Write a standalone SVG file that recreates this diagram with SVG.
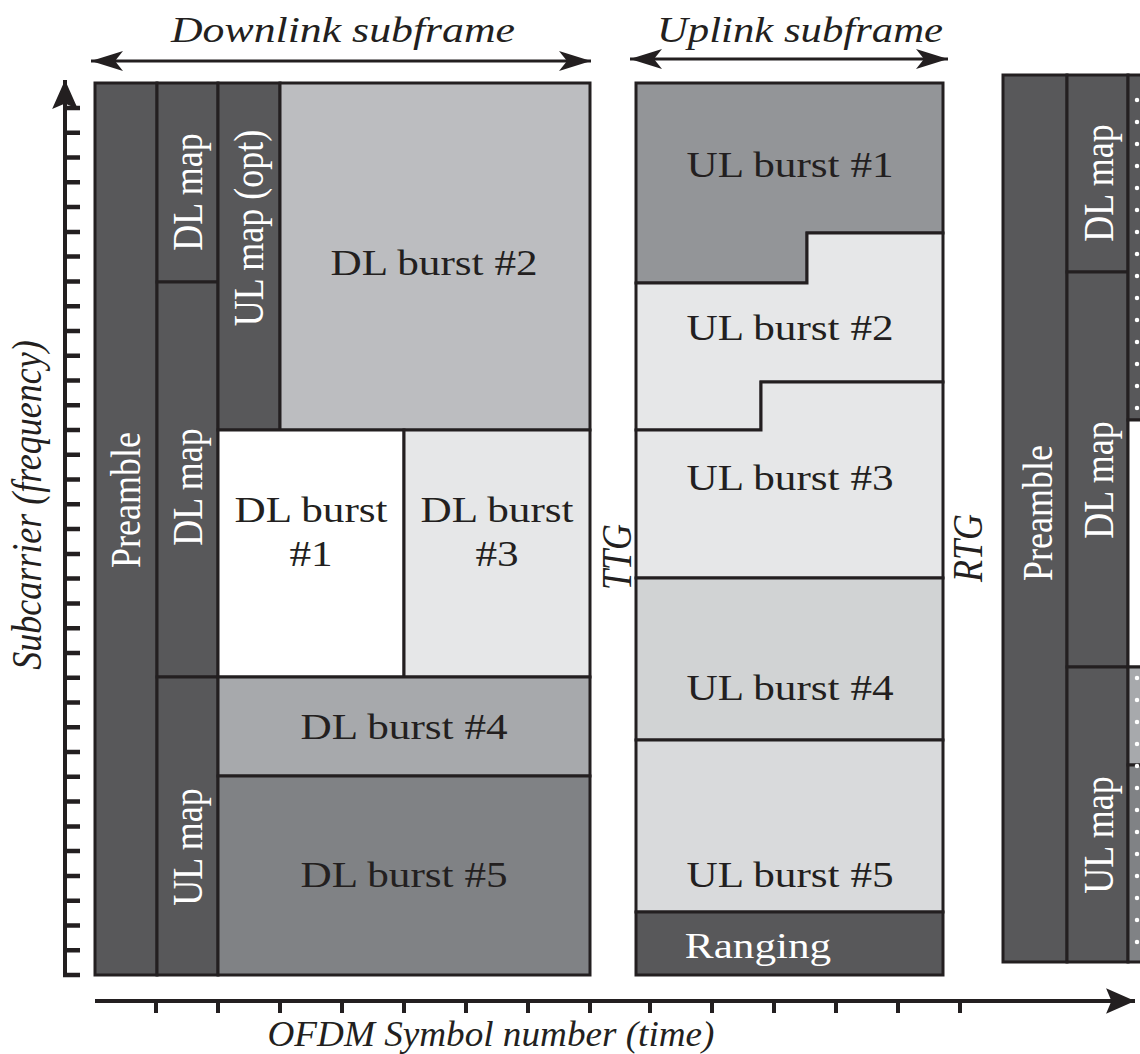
<svg xmlns="http://www.w3.org/2000/svg" width="1140" height="1054" viewBox="0 0 1140 1054">
<style>
.b{stroke:#231f20;stroke-width:3;stroke-linejoin:miter}
.dk{fill:#58585a}
.t{font-family:"Liberation Serif","Times New Roman",serif;font-size:36px;fill:#231f20;text-anchor:middle}
.w{fill:#ffffff}
.it{font-style:italic}
.ax{stroke:#231f20;fill:none}
</style>
<defs>
<marker id="ah" markerUnits="userSpaceOnUse" markerWidth="40" markerHeight="24" refX="0" refY="0" viewBox="-34 -12 36 24" orient="auto-start-reverse" overflow="visible">
<path d="M0,0 L-32,-10 L-24,0 L-32,10 Z" fill="#231f20"/>
</marker>
<marker id="av" markerUnits="userSpaceOnUse" markerWidth="40" markerHeight="30" refX="0" refY="0" viewBox="-32 -14 34 28" orient="auto" overflow="visible">
<path d="M0,0 L-27,-12 L-22,0 L-27,12 Z" fill="#231f20"/>
</marker>
</defs>
<rect width="1140" height="1054" fill="#ffffff"/>

<g id="connectors">
<line class="ax" x1="91" y1="61" x2="591" y2="61" stroke-width="3.2" marker-start="url(#ah)" marker-end="url(#ah)"/>
<line class="ax" x1="630" y1="59" x2="948" y2="59" stroke-width="3.2" marker-start="url(#ah)" marker-end="url(#ah)"/>
<line class="ax" x1="65" y1="977" x2="65" y2="80" stroke-width="4" marker-end="url(#av)"/>
<path class="ax" stroke-width="4.5" d="M65,108H80M65,132.8H80M65,157.5H80M65,182.3H80M65,207.1H80M65,231.9H80M65,256.6H80M65,281.4H80M65,306.2H80M65,330.9H80M65,355.7H80M65,380.5H80M65,405.3H80M65,430H80M65,454.8H80M65,479.6H80M65,504.3H80M65,529.1H80M65,553.9H80M65,578.6H80M65,603.4H80M65,628.2H80M65,653H80M65,677.7H80M65,702.5H80M65,727.3H80M65,752H80M65,776.8H80M65,801.6H80M65,826.4H80M65,851.1H80M65,875.9H80M65,900.7H80M65,925.4H80M65,950.2H80M63,975H80"/>
<line class="ax" x1="95" y1="1001" x2="1135" y2="1001" stroke-width="4" marker-end="url(#av)"/>
<path class="ax" stroke-width="4" d="M156,1001V1013M218,1001V1013M280,1001V1013M342,1001V1013M404,1001V1013M466,1001V1013M528,1001V1013M590,1001V1013M650,1001V1013M712,1001V1013M774,1001V1013M836,1001V1013M898,1001V1013M960,1001V1013"/>
</g>

<g id="labels">
<text class="t it" x="343" y="42" font-size="33" textLength="344" lengthAdjust="spacingAndGlyphs">Downlink subframe</text>
<text class="t it" x="800" y="42" font-size="33" textLength="286" lengthAdjust="spacingAndGlyphs">Uplink subframe</text>
<text class="t it" x="491" y="1046" font-size="34" textLength="447" lengthAdjust="spacingAndGlyphs">OFDM Symbol number (time)</text>
<text class="t it" font-size="34" transform="translate(41,505) scale(1.2 1) rotate(-90)">Subcarrier (frequency)</text>
<text class="t it" font-size="34" transform="translate(631,557) scale(1.2 1) rotate(-90)">TTG</text>
<text class="t it" font-size="34" transform="translate(982,548) scale(1.2 1) rotate(-90)">RTG</text>
</g>

<g id="dl-preamble">
<rect class="b dk" x="95" y="83" width="62" height="892"/>
<text class="t w" font-size="34" transform="translate(140,500) scale(1.2 1) rotate(-90)">Preamble</text>
</g>
<g id="dl-dlmap-1">
<rect class="b dk" x="157" y="83" width="61" height="199"/>
<text class="t w" font-size="34" transform="translate(202,192) scale(1.2 1) rotate(-90)">DL map</text>
</g>
<g id="dl-dlmap-2">
<rect class="b dk" x="157" y="282" width="61" height="395"/>
<text class="t w" font-size="34" transform="translate(202,487) scale(1.2 1) rotate(-90)">DL map</text>
</g>
<g id="dl-ulmap">
<rect class="b dk" x="157" y="677" width="61" height="298"/>
<text class="t w" font-size="34" transform="translate(202,847) scale(1.2 1) rotate(-90)">UL map</text>
</g>
<g id="dl-ulmap-opt">
<rect class="b dk" x="218" y="83" width="62" height="347"/>
<text class="t w" font-size="34" transform="translate(263,228) scale(1.2 1) rotate(-90)">UL map (opt)</text>
</g>
<g id="dl-burst-2">
<rect class="b" fill="#bcbdc0" x="280" y="83" width="310" height="347"/>
<text class="t" transform="translate(434,275) scale(1.2 1)">DL burst #2</text>
</g>
<g id="dl-burst-1">
<rect class="b" fill="#ffffff" x="218" y="430" width="186" height="247"/>
<text class="t" transform="translate(311,522) scale(1.2 1)">DL burst</text>
<text class="t" transform="translate(311,566) scale(1.2 1)">#1</text>
</g>
<g id="dl-burst-3">
<rect class="b" fill="#e6e7e8" x="404" y="430" width="186" height="247"/>
<text class="t" transform="translate(497,522) scale(1.2 1)">DL burst</text>
<text class="t" transform="translate(497,566) scale(1.2 1)">#3</text>
</g>
<g id="dl-burst-4">
<rect class="b" fill="#a7a9ac" x="218" y="677" width="372" height="99"/>
<text class="t" transform="translate(404,739) scale(1.2 1)">DL burst #4</text>
</g>
<g id="dl-burst-5">
<rect class="b" fill="#808285" x="218" y="776" width="372" height="199"/>
<text class="t" transform="translate(404,887) scale(1.2 1)">DL burst #5</text>
</g>

<g id="ul-burst-1">
<polygon class="b" fill="#939598" points="636,83 943,83 943,233 807,233 807,283 636,283"/>
<text class="t" transform="translate(790,177) scale(1.2 1)">UL burst #1</text>
</g>
<g id="ul-burst-2">
<polygon class="b" fill="#e6e7e8" points="636,283 807,283 807,233 943,233 943,382 761,382 761,430 636,430"/>
<text class="t" transform="translate(790,340) scale(1.2 1)">UL burst #2</text>
</g>
<g id="ul-burst-3">
<polygon class="b" fill="#e6e7e8" points="636,430 761,430 761,382 943,382 943,578 636,578"/>
<text class="t" transform="translate(790,490) scale(1.2 1)">UL burst #3</text>
</g>
<g id="ul-burst-4">
<rect class="b" fill="#d1d3d4" x="636" y="578" width="307" height="162"/>
<text class="t" transform="translate(790,700) scale(1.2 1)">UL burst #4</text>
</g>
<g id="ul-burst-5">
<rect class="b" fill="#d9dadc" x="636" y="740" width="307" height="172"/>
<text class="t" transform="translate(790,887) scale(1.2 1)">UL burst #5</text>
</g>
<g id="ul-ranging">
<rect class="b dk" x="636" y="912" width="307" height="63"/>
<text class="t w" transform="translate(758,958) scale(1.2 1)">Ranging</text>
</g>

<g id="next-preamble">
<rect class="b dk" x="1003" y="75" width="64" height="887"/>
<text class="t w" font-size="34" transform="translate(1052,513) scale(1.2 1) rotate(-90)">Preamble</text>
</g>
<g id="next-dlmap-1">
<rect class="b dk" x="1067" y="75" width="61" height="197"/>
<text class="t w" font-size="34" transform="translate(1113,183) scale(1.2 1) rotate(-90)">DL map</text>
</g>
<g id="next-dlmap-2">
<rect class="b dk" x="1067" y="272" width="61" height="395"/>
<text class="t w" font-size="34" transform="translate(1113,480) scale(1.2 1) rotate(-90)">DL map</text>
</g>
<g id="next-ulmap">
<rect class="b dk" x="1067" y="667" width="61" height="295"/>
<text class="t w" font-size="34" transform="translate(1113,835) scale(1.2 1) rotate(-90)">UL map</text>
</g>
<g id="next-bursts">
<rect class="b dk" x="1128" y="75" width="20" height="345"/>
<rect class="b" fill="#ffffff" x="1128" y="420" width="20" height="247"/>
<rect class="b" fill="#a7a9ac" x="1128" y="667" width="20" height="98"/>
<rect class="b" fill="#808285" x="1128" y="765" width="20" height="197"/>
<line x1="1137" y1="100" x2="1137" y2="410" stroke="#ffffff" stroke-width="4.5" stroke-linecap="round" stroke-dasharray="0 22"/>
<line x1="1137" y1="678" x2="1137" y2="956" stroke="#ffffff" stroke-width="4.5" stroke-linecap="round" stroke-dasharray="0 22"/>
</g>
</svg>
